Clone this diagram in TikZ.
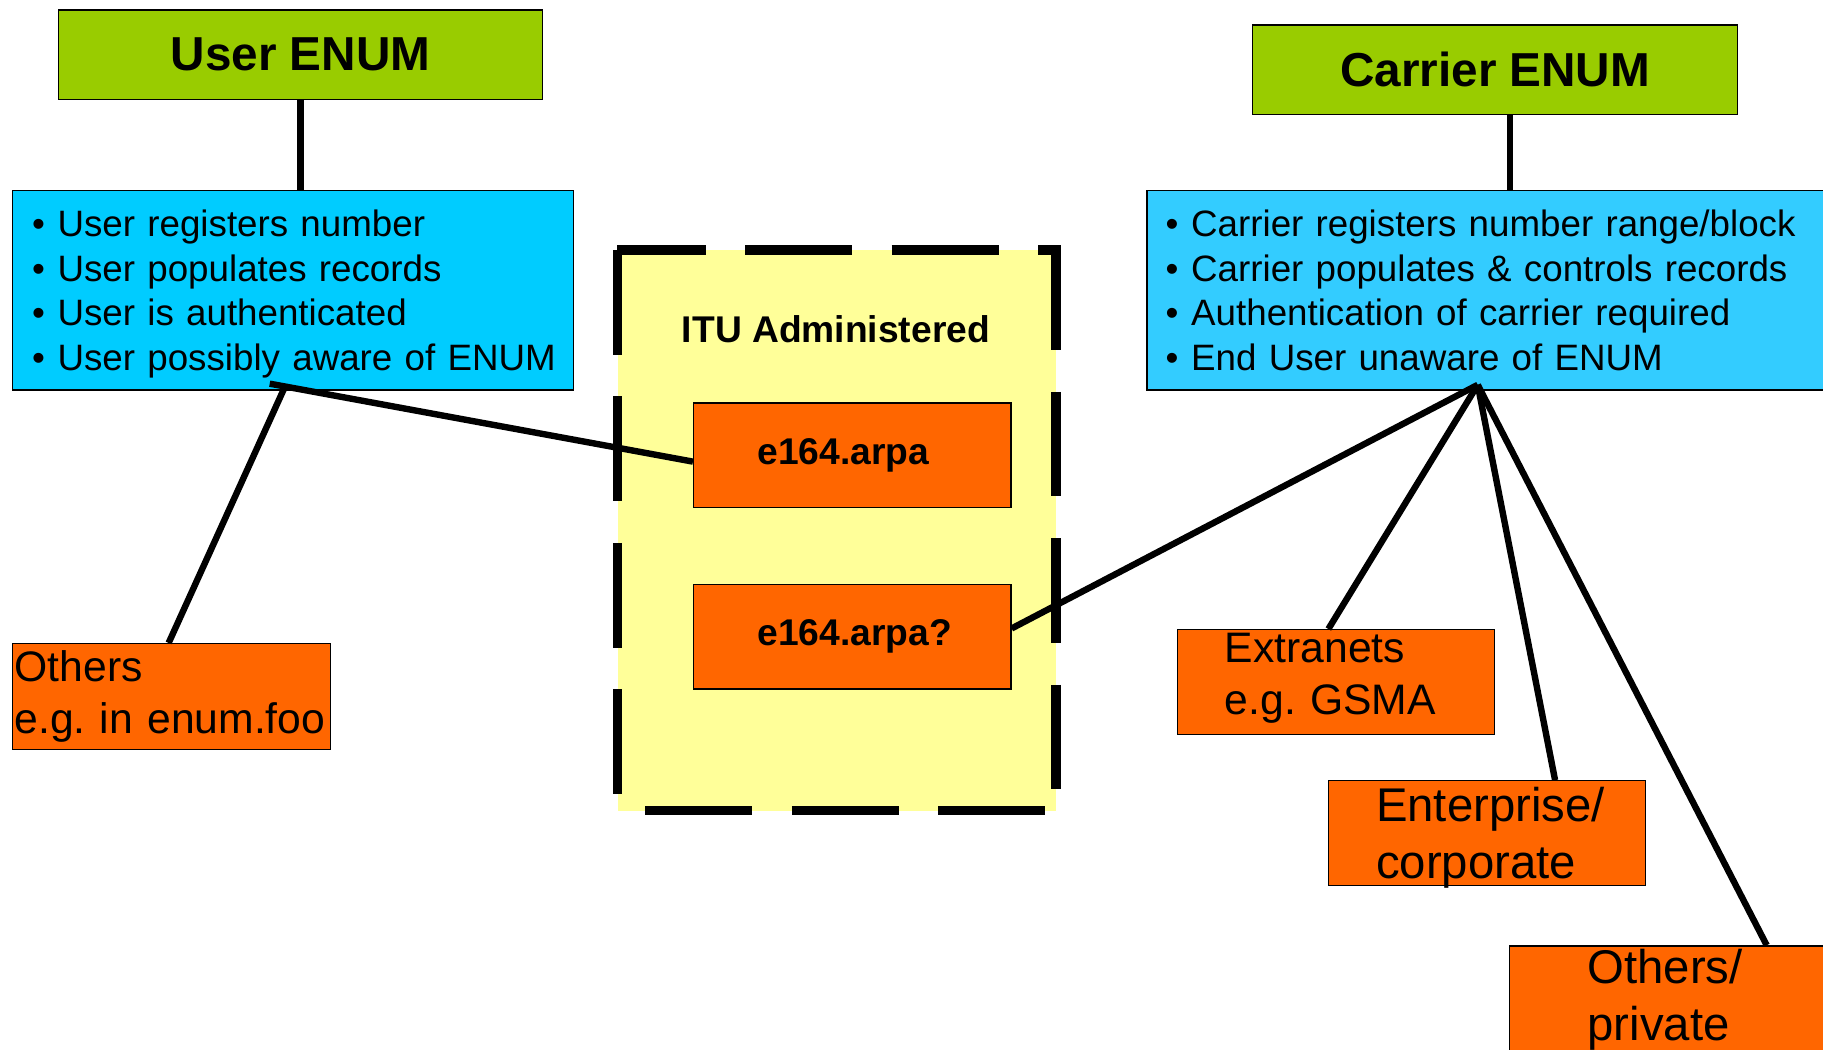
\documentclass[tikz,border=0pt]{standalone}
\usepackage{fontspec}
\setmainfont{Liberation Sans}
\frenchspacing
\definecolor{enumgreen}{HTML}{99CC00}
\definecolor{userblue}{HTML}{00CCFF}
\definecolor{carrierblue}{HTML}{33CCFF}
\definecolor{zoneorange}{HTML}{FF6600}
\definecolor{ituyellow}{HTML}{FFFF99}
% left indent of a text line inside a box
\newcommand\ind[1]{\hspace*{#1pt}}
\newcommand\bul{\makebox[22pt][l]{\textbullet}}
\begin{document}
\begin{tikzpicture}[x=1pt,y=-1pt,
  frame/.style={draw=black, line width=1.1pt, anchor=north west, inner sep=0pt},
  titlebox/.style={frame, fill=enumgreen, font=\bfseries\fontsize{41}{49}\selectfont},
  listbox/.style={frame, text width=#1, align=left, font=\fontsize{31.6}{38.3}\selectfont},
  arpabox/.style={frame, fill=zoneorange, text width=273pt, minimum height=90pt, align=left,
    font=\bfseries\fontsize{32}{38}\selectfont},
  smallzone/.style={frame, fill=zoneorange, text width=#1, align=left,
    font=\fontsize{36.7}{44}\selectfont},
  bigzone/.style={frame, fill=zoneorange, text width=273pt, align=left,
    font=\fontsize{40.7}{49}\selectfont},
  itudash/.style={line width=8pt, line cap=butt},
  link/.style={line width=5.5pt, line cap=butt}]

\useasboundingbox (0,0) rectangle (1568,903);

% ITU administered area
\node[anchor=north west, inner sep=0pt, fill=ituyellow, minimum width=377pt, minimum height=482pt]
  (itu) at (531,215) {};
\draw[itudash, dash pattern=on 92pt off 34pt, dash phase=16pt] (itu.north west) -- (itu.north east);
\draw[itudash, dash pattern=on 90pt off 36pt] (itu.north west) -- (itu.south west);
\draw[itudash, dash pattern=on 90pt off 36pt] ([yshift=4pt]itu.north east) -- (itu.south east);
\draw[itudash, dash pattern=on 92pt off 34pt, dash phase=102pt] (itu.south west) -- (itu.south east);
\node[font=\bfseries\fontsize{32}{38}\selectfont, inner sep=0pt] (itulbl) at (719,283) {ITU Administered};

\node[arpabox] (arpa1) at (596,346) {\ind{55}e164.arpa};
\node[arpabox] (arpa2) at (596,502) {\ind{55}e164.arpa?};

% the two ENUM kinds
\node[titlebox, minimum width=416pt, minimum height=77pt] (uenum) at (50,8) {User ENUM};
\node[titlebox, minimum width=417pt, minimum height=77pt] (cenum) at (1077,21) {Carrier ENUM};

\node[listbox=483pt, fill=userblue, minimum height=172pt] (ublue) at (10,163)
  {\ind{17}\bul User registers number\\\ind{17}\bul User populates records\\
   \ind{17}\bul User is authenticated\\\ind{17}\smash{\bul User possibly aware of ENUM}};
\node[listbox=600pt, fill=carrierblue, minimum height=172pt] (cblue) at (986,163)
  {\ind{16}\bul Carrier registers number range/block\\\ind{16}\bul Carrier populates \& controls records\\
   \ind{16}\bul Authentication of carrier required\\\ind{16}\bul End User unaware of ENUM};

% other zones
\node[smallzone=274pt, minimum height=91pt] (othl) at (10,553)
  {\ind{2}Others\\\ind{2}e.g. in enum.foo};
\node[smallzone=273pt, minimum height=90pt] (extr) at (1012,541)
  {\ind{41}Extranets\\\ind{41}e.g. GSMA\rule[-14pt]{0pt}{14pt}};
\node[bigzone, minimum height=90pt] (ent) at (1142,671)
  {\ind{41}Enterprise/\\\ind{41}\smash{corporate}};
\node[bigzone, minimum height=92pt] (othp) at (1298,813)
  {\ind{67}Others/\\\ind{67}private};

% connectors
\coordinate (lhubA) at (232,330);
\coordinate (lhubB) at (244,335);
\coordinate (rhub) at (1271,331);

\draw[link] (uenum.south) -- (uenum.south |- ublue.north);
\draw[link] ([xshift=12.5pt]cenum.south) -- ([xshift=12.5pt]cenum.south |- cblue.north);
\draw[link] (lhubA) -- ([yshift=-5.5pt]arpa1.west);
\draw[link] (lhubB) -- ([xshift=-2.5pt]othl.north);
\draw[link] (rhub) -- ([yshift=7pt]arpa2.east);
\draw[link] (rhub) -- ([xshift=-6.5pt]extr.north);
\draw[link] (rhub) -- ([xshift=58.5pt]ent.north);
\draw[link] (rhub) -- ([xshift=84.5pt]othp.north);
\end{tikzpicture}
\end{document}
